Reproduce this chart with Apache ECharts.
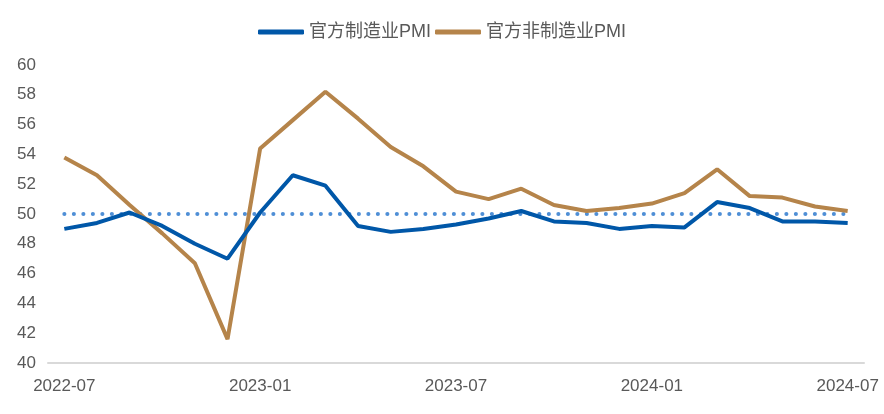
<!DOCTYPE html>
<html>
<head>
<meta charset="utf-8">
<script src="https://cdn.jsdelivr.net/npm/echarts@6/dist/echarts.min.js"></script>
<style>
  html, body { margin: 0; padding: 0; background: #fff; }
  #chart { width: 884px; height: 414px; }
</style>
</head>
<body>
<div id="chart"></div>
<script>
// 月份
var months = ['2022-07','2022-08','2022-09','2022-10','2022-11','2022-12',
  '2023-01','2023-02','2023-03','2023-04','2023-05','2023-06',
  '2023-07','2023-08','2023-09','2023-10','2023-11','2023-12',
  '2024-01','2024-02','2024-03','2024-04','2024-05','2024-06','2024-07'];
// 官方制造业PMI
var mfgPMI = [49.0,49.4,50.1,49.2,48.0,47.0,50.1,52.6,51.9,49.2,48.8,49.0,
  49.3,49.7,50.2,49.5,49.4,49.0,49.2,49.1,50.8,50.4,49.5,49.5,49.4];
// 官方非制造业PMI
var nonMfgPMI = [53.8,52.6,50.6,48.7,46.7,41.6,54.4,56.3,58.2,56.4,54.5,53.2,
  51.5,51.0,51.7,50.6,50.2,50.4,50.7,51.4,53.0,51.2,51.1,50.5,50.2];
// 荣枯线
var lineFifty = months.map(function () { return 50; });

var yMin = 40, yMax = 60, yStep = 2;

var font = 'Liberation Sans, Noto Sans CJK SC, sans-serif';
var chart = echarts.init(document.getElementById('chart'));
var option = {
  animation: false,
  legend: {
    data: ['官方制造业PMI', '官方非制造业PMI'],
    top: 18,
    left: 'center',
    icon: 'roundRect',
    itemWidth: 46,
    itemHeight: 5,
    itemGap: 4,
    textStyle: { fontFamily: font, fontSize: 18, color: '#595959' }
  },
  grid: { left: 48, right: 20, top: 65, bottom: 51 },
  xAxis: {
    type: 'category',
    data: months,
    boundaryGap: true,
    axisLine: { lineStyle: { color: '#d9d9d9', width: 2 } },
    axisTick: { interval: 5, length: 7, lineStyle: { color: '#d9d9d9', width: 2 } },
    axisLabel: { interval: 5, fontFamily: font, fontSize: 17, color: '#595959', margin: 15 }
  },
  yAxis: {
    type: 'value',
    min: yMin,
    max: yMax,
    interval: yStep,
    axisLine: { show: false },
    axisTick: { show: false },
    splitLine: { show: false },
    axisLabel: { fontFamily: font, fontSize: 17, color: '#595959', margin: 12 }
  },
  series: [
    {
      name: '荣枯线',
      type: 'line',
      data: lineFifty,
      symbol: 'none',
      lineStyle: { color: '#4f8fd6', width: 4, type: [0.1, 9.4], cap: 'round' },
      z: 1
    },
    {
      name: '官方制造业PMI',
      type: 'line',
      data: mfgPMI,
      symbol: 'none',
      itemStyle: { color: '#0057a8' },
      lineStyle: { color: '#0057a8', width: 4 },
      z: 3
    },
    {
      name: '官方非制造业PMI',
      type: 'line',
      data: nonMfgPMI,
      symbol: 'none',
      itemStyle: { color: '#b5844a' },
      lineStyle: { color: '#b5844a', width: 4 },
      z: 2
    }
  ]
};
chart.setOption(option);
</script>
</body>
</html>
